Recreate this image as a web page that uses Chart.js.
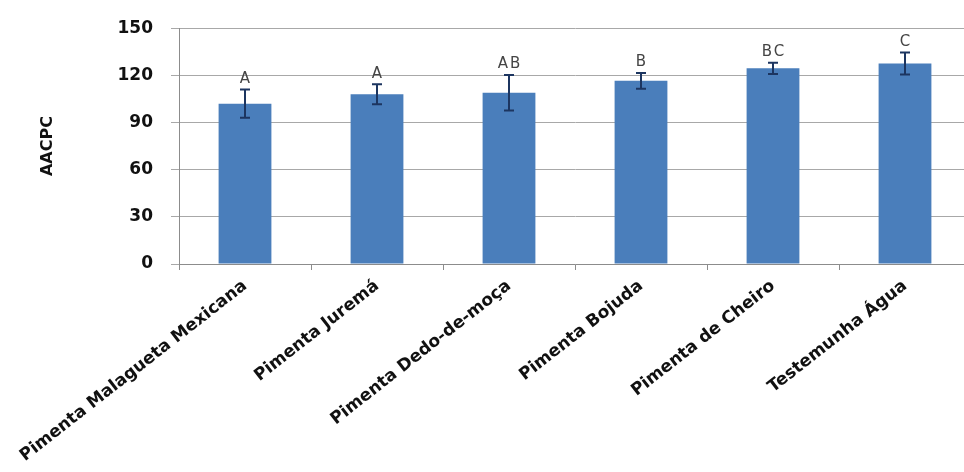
<!DOCTYPE html>
<html>
<head>
<meta charset="utf-8">
<script src="https://cdn.jsdelivr.net/npm/chart.js@4/dist/chart.umd.min.js"></script>
<style>
html, body { margin:0; padding:0; overflow:hidden; background:#ffffff; }
#wrap { width:980px; height:472px; }
</style>
</head>
<body>
<div id="wrap"><canvas id="c" width="980" height="472"></canvas></div>
<script>
const categories = ['Pimenta Malagueta Mexicana', 'Pimenta Juremá', 'Pimenta Dedo-de-moça', 'Pimenta Bojuda', 'Pimenta de Cheiro', 'Testemunha Água'];
const means = [102, 108, 109, 116.5, 124.5, 127.5];
const errors = [9, 6.3, 11.3, 5, 3.6, 7];
const letters = ['A', 'A', 'AB', 'B', 'BC', 'C'];
const yTicks = [0, 30, 60, 90, 120, 150];
const yTitle = 'AACPC';

const errorBarPlugin = {
  id: 'errorBars',
  afterDatasetsDraw(chart) {
    const ctx = chart.ctx;
    const meta = chart.getDatasetMeta(0);
    const y = chart.scales.y;
    ctx.save();
    meta.data.forEach((bar, i) => {
      const x = bar.x;
      const yTop = y.getPixelForValue(means[i] + errors[i]);
      const yBot = y.getPixelForValue(means[i] - errors[i]);
      ctx.strokeStyle = '#1c3560';
      ctx.lineWidth = 2;
      ctx.beginPath();
      ctx.moveTo(x, yTop); ctx.lineTo(x, yBot);
      ctx.moveTo(x - 5, yTop); ctx.lineTo(x + 5, yTop);
      ctx.moveTo(x - 5, yBot); ctx.lineTo(x + 5, yBot);
      ctx.stroke();
      ctx.fillStyle = '#454545';
      ctx.font = '15px "DejaVu Sans"';
      ctx.textAlign = 'center';
      ctx.textBaseline = 'bottom';
      if ('letterSpacing' in ctx) ctx.letterSpacing = '2px';
      ctx.fillText(letters[i], x + 1, yTop - 3);
      if ('letterSpacing' in ctx) ctx.letterSpacing = '0px';
    });
    ctx.restore();
  }
};

new Chart(document.getElementById('c'), {
  type: 'bar',
  data: {
    labels: categories,
    datasets: [{
      data: means,
      backgroundColor: '#4a7ebb',
      borderWidth: 0,
      barPercentage: 0.4,
      categoryPercentage: 1.0
    }]
  },
  options: {
    responsive: false,
    animation: false,
    devicePixelRatio: 1,
    layout: { padding: { left: 0, top: 26, right: 9, bottom: 0 } },
    plugins: { legend: { display: false }, tooltip: { enabled: false } },
    scales: {
      x: {
        offset: true,
        grid: { display: true, offset: true, drawOnChartArea: false, drawTicks: true, tickLength: 6, color: '#8c8c8c' },
        border: { display: true, color: '#8c8c8c', width: 1 },
        ticks: {
          autoSkip: false,
          minRotation: 38,
          maxRotation: 38,
          padding: 6,
          color: '#111111',
          font: { family: 'DejaVu Sans', weight: 'bold', size: 17 }
        },
        afterFit(scale) { scale.height = 208; }
      },
      y: {
        min: 0,
        max: 150,
        afterBuildTicks(scale) { scale.ticks = yTicks.map(v => ({ value: v })); },
        grid: { color: '#a8a8a8', lineWidth: 1, tickLength: 8, drawTicks: true },
        border: { display: true, color: '#8c8c8c', width: 1 },
        ticks: {
          padding: 18,
          color: '#111111',
          font: { family: 'DejaVu Sans', weight: 'bold', size: 17 }
        },
        title: {
          display: true,
          text: yTitle,
          color: '#111111',
          font: { family: 'DejaVu Sans', weight: 'bold', size: 16 },
          padding: { top: 38, bottom: 0 }
        },
        afterFit(scale) { scale.width = 179; }
      }
    }
  },
  plugins: [errorBarPlugin]
});
</script>
</body>
</html>
